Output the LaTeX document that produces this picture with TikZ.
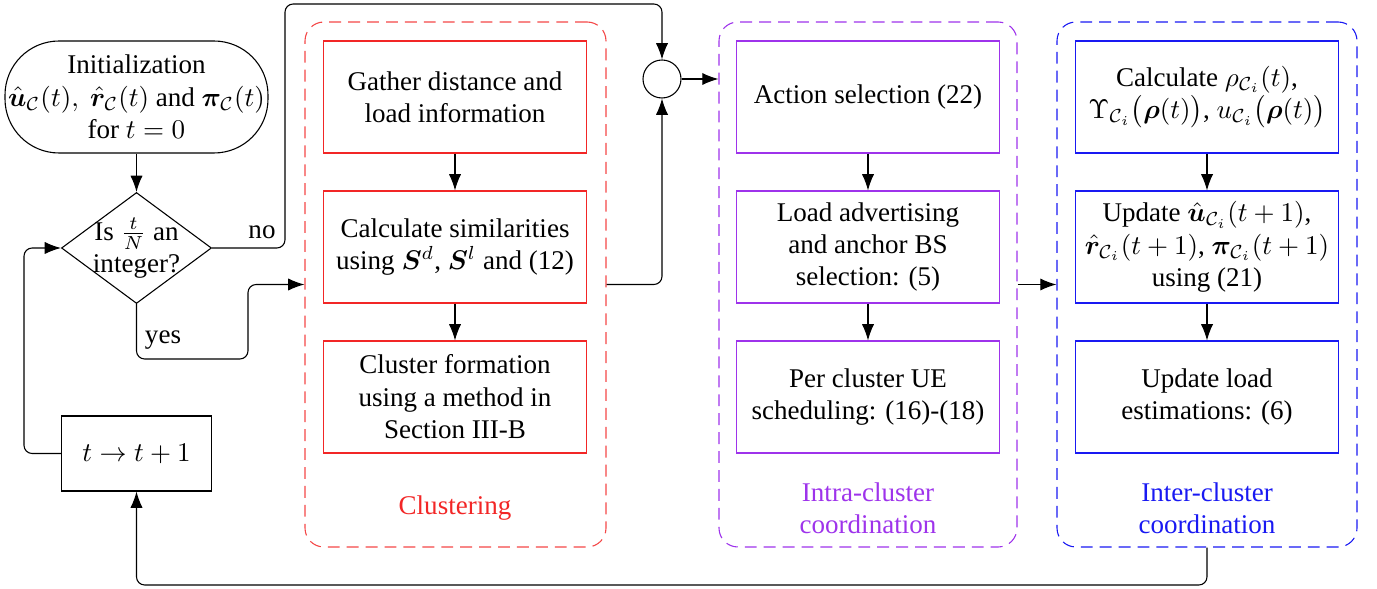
\documentclass[tikz,border=0pt]{standalone}
\usepackage{amsmath,amssymb,bm}
\usepackage[no-math]{fontspec}
\setmainfont{Liberation Serif}
\usetikzlibrary{arrows.meta,shapes.geometric}
\definecolor{cred}{rgb}{0.95,0.15,0.15}
\definecolor{cpurple}{rgb}{0.62,0.2,0.92}
\definecolor{cblue}{rgb}{0.1,0.1,0.95}
\tikzset{
  arr/.style={-{Latex[length=6pt,width=4.5pt]}},
  conn/.style={arr,rounded corners=3pt},
  stepbox/.style={draw,rectangle,minimum width=263*0.37pt,minimum height=112*0.37pt,align=center,inner sep=2pt},
  cont/.style={draw,dashed,dash pattern=on 4.4pt off 2.6pt,rounded corners=7pt,minimum width=300*0.37pt,minimum height=525*0.37pt},
  lbl/.style={align=center}
}
\begin{document}
\begin{tikzpicture}[x=0.37pt,y=-0.37pt]
\useasboundingbox (0,0) rectangle (1377,589);
% containers
\node[cont,draw=cred!85,minimum width=301*0.37pt] (clu) at (455.5,284.5) {};
\node[cont,draw=cpurple,minimum width=298*0.37pt] (intra) at (868,284.5) {};
\node[cont,draw=cblue] (inter) at (1207,284.5) {};
\node[lbl,text=cred] at (455,508) {Clustering};
\node[lbl,text=cpurple] at (868,508) {Intra-cluster\\coordination};
\node[lbl,text=cblue] at (1207,508) {Inter-cluster\\coordination};
% left part
\node[draw,rectangle,rounded corners=20pt,minimum width=263*0.37pt,minimum height=112*0.37pt,align=center,inner sep=1pt] (init) at (136.5,97)
 {Initialization\\$\hat{\boldsymbol{u}}_{\mathcal{C}}(t),\ \hat{\boldsymbol{r}}_{\mathcal{C}}(t)$ and $\boldsymbol{\pi}_{\mathcal{C}}(t)$\\for $t=0$};
\node[draw,diamond,minimum width=150*0.37pt,minimum height=111*0.37pt,inner sep=0pt] (dec) at (136.5,248) {};
\node[lbl] (dectext) at (dec.center) {Is $\frac{t}{N}$ an\\integer?};
\node[draw,rectangle,minimum width=150*0.37pt,minimum height=75*0.37pt] (tbox) at (136.5,453.5) {$t\rightarrow t+1$};
\node[draw,circle,minimum size=38*0.37pt,inner sep=0pt] (sum) at (662,79) {};
% red boxes
\node[stepbox,draw=cred] (r1) at (455,97) {Gather distance and\\load information};
\node[stepbox,draw=cred] (r2) at (455,247) {Calculate similarities\\using $\boldsymbol{S}^d$, $\boldsymbol{S}^l$ and (12)};
\node[stepbox,draw=cred] (r3) at (455,397) {Cluster formation\\using a method in\\Section III-B};
% purple boxes
\node[stepbox,draw=cpurple] (p1) at (868,97) {Action selection (22)};
\node[stepbox,draw=cpurple] (p2) at (868,247) {Load advertising\\and anchor BS\\selection: (5)};
\node[stepbox,draw=cpurple] (p3) at (868,397) {Per cluster UE\\scheduling: (16)-(18)};
% blue boxes
\node[stepbox,draw=cblue] (b1) at (1207,97) {Calculate $\rho_{\mathcal{C}_i}(t)$,\\$\Upsilon_{\mathcal{C}_i}\big(\boldsymbol{\rho}(t)\big)$, $u_{\mathcal{C}_i}\big(\boldsymbol{\rho}(t)\big)$};
\node[stepbox,draw=cblue] (b2) at (1207,247) {Update $\hat{\boldsymbol{u}}_{\mathcal{C}_i}(t+1)$,\\$\hat{\boldsymbol{r}}_{\mathcal{C}_i}(t+1)$, $\boldsymbol{\pi}_{\mathcal{C}_i}(t+1)$\\using (21)};
\node[stepbox,draw=cblue] (b3) at (1207,397) {Update load\\estimations: (6)};
% coordinates
\coordinate (n1) at (285,248);
\coordinate (n2) at (285,4);
\coordinate (n3) at (662,4);
\coordinate (y1) at (136.5,359);
\coordinate (y2) at (248,359);
\coordinate (y3) at (248,284.5);
\coordinate (l1) at (24,453.5);
\coordinate (l2) at (24,248);
\coordinate (f1) at (1207,585);
\coordinate (f2) at (136.5,585);
\coordinate (s1) at (662,284.5);
% connectors
\draw[arr] (init) -- (dec);
\draw[conn] (dec.east) -- (n1) -- (n2) -- (n3) -- (sum.north);
\node at (262,232) {no};
\draw[conn] (dec.south) -- (y1) -- (y2) -- (y3) -- (clu.west);
\node at (163,340) {yes};
\draw[conn] (tbox.west) -- (l1) -- (l2) -- (dec.west);
\draw[conn] (inter.south) -- (f1) -- (f2) -- (tbox.south);
\draw[conn] (clu.east) -- (s1) -- (sum.south);
\draw[arr] (sum.east) -- (sum.east -| intra.west);
\draw[arr] (intra.east) -- (inter.west);
\draw[arr] (r1) -- (r2);
\draw[arr] (r2) -- (r3);
\draw[arr] (p1) -- (p2);
\draw[arr] (p2) -- (p3);
\draw[arr] (b1) -- (b2);
\draw[arr] (b2) -- (b3);
\end{tikzpicture}
\end{document}
